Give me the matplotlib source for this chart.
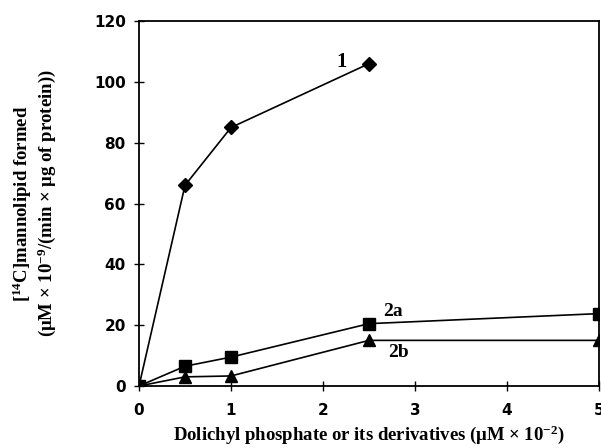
import matplotlib
matplotlib.use("Agg")
import matplotlib.pyplot as plt

plt.rcParams["mathtext.fontset"] = "custom"
plt.rcParams["mathtext.rm"] = "Liberation Serif:bold"
plt.rcParams["mathtext.it"] = "Liberation Serif:bold:italic"
plt.rcParams["mathtext.bf"] = "Liberation Serif:bold"

x1 = [0, 0.5, 1, 2.5]
y1 = [0, 66, 85, 106]
x2a = [0, 0.5, 1, 2.5, 5]
y2a = [0, 6.5, 9.5, 20.5, 23.8]
x2b = [0, 0.5, 1, 2.5, 5]
y2b = [0, 3, 3.3, 15, 15]
xticks = [0, 1, 2, 3, 4, 5]
yticks = [0, 20, 40, 60, 80, 100, 120]

fig = plt.figure(figsize=(6.01, 4.48), dpi=100)
ax = fig.add_axes([0.2313, 0.1384, 0.7654, 0.8146])

ax.plot(x1, y1, color="black", lw=1.2, marker="D", ms=7, zorder=3)
ax.plot(x2a, y2a, color="black", lw=1.2, marker="s", ms=8.5, zorder=3)
ax.plot(x2b, y2b, color="black", lw=1.2, marker="^", ms=8.5, zorder=3)

ax.set_xlim(0, 5)
ax.set_ylim(0, 120)
ax.set_xticks(xticks)
ax.set_yticks(yticks)
ax.tick_params(direction="inout", length=7, width=1, labelsize=11)
ax.tick_params(axis="x", pad=9)
ax.tick_params(axis="y", pad=6)
for lab in ax.get_xticklabels() + ax.get_yticklabels():
    lab.set_fontweight("bold")
for s in ax.spines.values():
    s.set_linewidth(1.3)

serif = "Liberation Serif"
ax.text(2.2, 106.5, "1", fontsize=15, fontweight="bold", family=serif, ha="center", va="center")
ax.text(2.76, 24.5, "2a", fontsize=14, fontweight="bold", family=serif, ha="center", va="center")
ax.text(2.82, 11, "2b", fontsize=14, fontweight="bold", family=serif, ha="center", va="center")

ax.set_xlabel("Dolichyl phosphate or its derivatives (μM × 10$^{-2}$)",
              fontsize=13.5, fontweight="bold", family=serif, labelpad=4)
ax.set_ylabel("[$^{14}$C]mannolipid formed\n(μM × 10$^{-9}$/(min × μg of protein))",
              fontsize=13.5, fontweight="bold", family=serif, labelpad=26, linespacing=1.05)

fig.savefig("out.png", dpi=100)
